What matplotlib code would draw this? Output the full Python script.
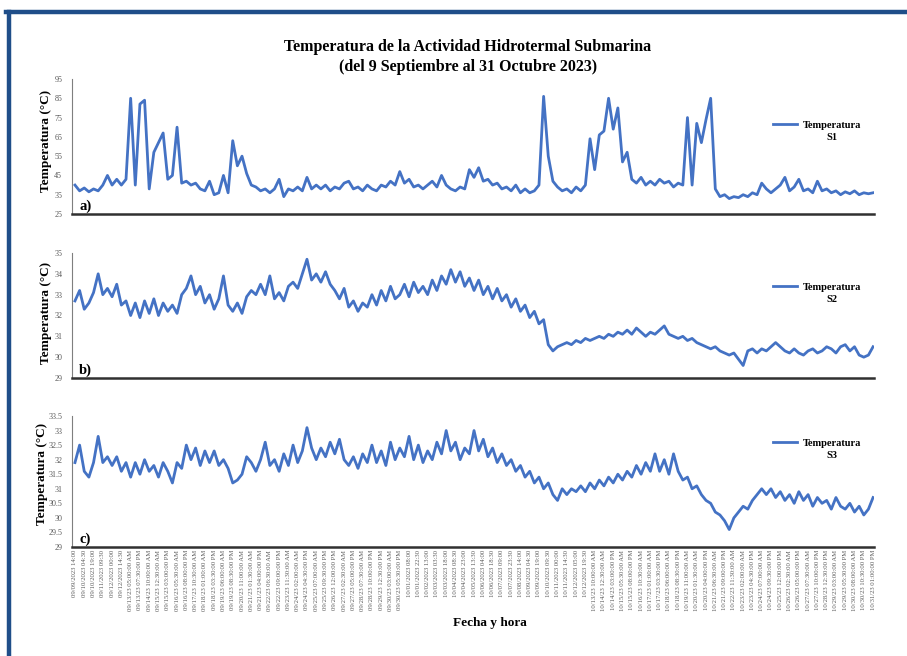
import numpy as np
import matplotlib
matplotlib.use("Agg")
import matplotlib.pyplot as plt
from matplotlib.lines import Line2D

plt.rcParams['font.family'] = ['Liberation Serif', 'DejaVu Serif']

# Datos (cada valor ~ 7.25 h)
temp_s1 = [40, 37, 38.5, 36.5, 38, 37, 40, 45, 40, 43, 40, 43, 85, 40, 82, 84, 38, 57, 62, 67,
           43, 45, 70, 41, 42, 40, 41, 38, 37, 42, 35, 36, 45, 36, 63, 50, 55, 46, 40, 39,
           37, 38, 36, 38, 43, 34, 38, 37, 39, 37, 44, 38, 40, 38, 40, 37, 39, 38, 41, 42,
           38, 39, 37, 40, 38, 37, 40, 39, 42, 40, 47, 41, 43, 39, 40, 38, 40, 42, 39, 45,
           40, 38, 37, 39, 38, 48, 44, 49, 42, 43, 40, 41, 38, 39, 37, 40, 36, 38, 36, 37,
           40, 86, 55, 42, 39, 37, 38, 36, 39, 37, 40, 64, 48, 66, 68, 85, 69, 80, 52, 57,
           43, 41, 44, 40, 42, 40, 43, 41, 42, 39, 41, 40, 75, 40, 72, 62, 74, 85, 38, 34,
           35, 33, 34, 33.5, 35, 34, 36, 35, 41, 38, 36, 38, 40, 44, 37, 39, 43, 37, 38, 36,
           42, 37, 38, 36, 37, 35, 36.5, 35.5, 37, 35, 36, 35.5, 36]

temp_s2 = [32.7, 33.2, 32.3, 32.6, 33.1, 34.0, 33.0, 33.3, 32.9, 33.5, 32.5, 32.7, 32.0, 32.6,
           31.9, 32.7, 32.1, 32.8, 32.0, 32.6, 32.2, 32.5, 32.1, 33.0, 33.3, 33.9, 33.0, 33.4,
           32.6, 33.0, 32.3, 32.8, 33.9, 32.5, 32.2, 32.6, 32.1, 32.9, 33.2, 33.0, 33.5, 33.0,
           33.9, 32.8, 33.1, 32.7, 33.4, 33.6, 33.3, 34.0, 34.7, 33.7, 34.0, 33.6, 34.1, 33.5,
           33.2, 32.8, 33.3, 32.4, 32.7, 32.2, 32.6, 32.4, 33.0, 32.5, 33.2, 32.7, 33.4, 32.8,
           33.0, 33.5, 32.9, 33.6, 33.1, 33.4, 33.0, 33.7, 33.2, 33.9, 33.5, 34.2, 33.6, 34.1,
           33.4, 33.8, 33.2, 33.7, 33.0, 33.4, 32.8, 33.3, 32.7, 33.0, 32.4, 32.8, 32.2, 32.5,
           31.9, 32.2, 31.6, 31.8, 30.6, 30.3, 30.5, 30.6, 30.7, 30.6, 30.8, 30.7, 30.9, 30.8,
           30.9, 31.0, 30.9, 31.1, 31.0, 31.2, 31.1, 31.3, 31.1, 31.4, 31.2, 31.0, 31.2, 31.1,
           31.3, 31.5, 31.1, 31.0, 30.9, 31.0, 30.8, 30.9, 30.7, 30.6, 30.5, 30.4, 30.5, 30.3,
           30.2, 30.1, 30.2, 29.9, 29.6, 30.3, 30.4, 30.2, 30.4, 30.3, 30.5, 30.7, 30.5, 30.3,
           30.2, 30.4, 30.2, 30.1, 30.3, 30.4, 30.2, 30.3, 30.5, 30.4, 30.2, 30.5, 30.6, 30.3,
           30.5, 30.1, 30.0, 30.1, 30.5]

temp_s3 = [31.9, 32.5, 31.6, 31.4, 31.9, 32.8, 31.9, 32.1, 31.8, 32.1, 31.6, 31.9, 31.4, 31.9,
           31.5, 32.0, 31.6, 31.8, 31.4, 31.9, 31.6, 31.2, 31.9, 31.7, 32.5, 32.0, 32.4, 31.8,
           32.3, 31.9, 32.3, 31.8, 32.0, 31.7, 31.2, 31.3, 31.5, 32.1, 31.9, 31.6, 32.0, 32.6,
           31.8, 32.0, 31.6, 32.2, 31.8, 32.5, 31.9, 32.3, 33.1, 32.4, 32.0, 32.4, 32.1, 32.6,
           32.2, 32.7, 32.0, 31.8, 32.1, 31.7, 32.2, 31.9, 32.5, 31.9, 32.3, 31.8, 32.6, 32.0,
           32.4, 32.1, 32.8, 32.0, 32.5, 31.9, 32.3, 32.0, 32.6, 32.2, 33.0, 32.3, 32.6, 32.0,
           32.4, 32.2, 33.0, 32.3, 32.7, 32.1, 32.4, 31.9, 32.2, 31.8, 32.0, 31.6, 31.8, 31.4,
           31.6, 31.2, 31.4, 31.0, 31.2, 30.8, 30.6, 31.0, 30.8, 31.0, 30.9, 31.1, 30.9, 31.2,
           31.0, 31.3, 31.1, 31.4, 31.2, 31.5, 31.3, 31.6, 31.4, 31.8, 31.5, 31.9, 31.6, 32.2,
           31.6, 32.0, 31.5, 32.2, 31.6, 31.3, 31.4, 31.0, 31.1, 30.8, 30.6, 30.5, 30.2, 30.1,
           29.9, 29.6, 30.0, 30.2, 30.4, 30.3, 30.6, 30.8, 31.0, 30.8, 31.0, 30.7, 30.9, 30.6,
           30.8, 30.5, 30.9, 30.6, 30.8, 30.4, 30.7, 30.5, 30.6, 30.3, 30.7, 30.4, 30.3, 30.5,
           30.2, 30.4, 30.1, 30.3, 30.7]

fechas = [
    "09/09/2023 14:00", "09/10/2023 04:30", "09/10/2023 19:00", "09/11/2023 09:30",
    "09/12/2023 00:00", "09/12/2023 14:30", "09/13/23 05:00:00 AM", "09/13/23 07:30:00 PM",
    "09/14/23 10:00:00 AM", "09/15/23 12:30:00 AM", "09/15/23 03:00:00 PM", "09/16/23 05:30:00 AM",
    "09/16/23 08:00:00 PM", "09/17/23 10:30:00 AM", "09/18/23 01:00:00 AM", "09/18/23 03:30:00 PM",
    "09/19/23 06:00:00 AM", "09/19/23 08:30:00 PM", "09/20/23 11:00:00 AM", "09/21/23 01:30:00 AM",
    "09/21/23 04:00:00 PM", "09/22/23 06:30:00 AM", "09/22/23 09:00:00 PM", "09/23/23 11:30:00 AM",
    "09/24/23 02:00:00 AM", "09/24/23 04:30:00 PM", "09/25/23 07:00:00 AM", "09/25/23 09:30:00 PM",
    "09/26/23 12:00:00 PM", "09/27/23 02:30:00 AM", "09/27/23 05:00:00 PM", "09/28/23 07:30:00 AM",
    "09/28/23 10:00:00 PM", "09/29/23 12:30:00 PM", "09/30/23 03:00:00 AM", "09/30/23 05:30:00 PM",
    "10/01/2023 08:00", "10/01/2023 22:30", "10/02/2023 13:00", "10/03/2023 03:30",
    "10/03/2023 18:00", "10/04/2023 08:30", "10/04/2023 23:00", "10/05/2023 13:30",
    "10/06/2023 04:00", "10/06/2023 18:30", "10/07/2023 09:00", "10/07/2023 23:30",
    "10/08/2023 14:00", "10/09/2023 04:30", "10/09/2023 19:00", "10/10/2023 09:30",
    "10/11/2023 00:00", "10/11/2023 14:30", "10/12/2023 05:00", "10/12/2023 19:30",
    "10/13/23 10:00:00 AM", "10/14/23 12:30:00 AM", "10/14/23 03:00:00 PM", "10/15/23 05:30:00 AM",
    "10/15/23 08:00:00 PM", "10/16/23 10:30:00 AM", "10/17/23 01:00:00 AM", "10/17/23 03:30:00 PM",
    "10/18/23 06:00:00 AM", "10/18/23 08:30:00 PM", "10/19/23 11:00:00 AM", "10/20/23 01:30:00 AM",
    "10/20/23 04:00:00 PM", "10/21/23 06:30:00 AM", "10/21/23 09:00:00 PM", "10/22/23 11:30:00 AM",
    "10/23/23 02:00:00 AM", "10/23/23 04:30:00 PM", "10/24/23 07:00:00 AM", "10/24/23 09:30:00 PM",
    "10/25/23 12:00:00 PM", "10/26/23 02:30:00 AM", "10/26/23 05:00:00 PM", "10/27/23 07:30:00 AM",
    "10/27/23 10:00:00 PM", "10/28/23 12:30:00 PM", "10/29/23 03:00:00 AM", "10/29/23 05:30:00 PM",
    "10/30/23 08:00:00 AM", "10/30/23 10:30:00 PM", "10/31/23 01:00:00 PM",
]

W, H = 907, 656


def fx(x):
    return x / W


def fy(y):
    return 1 - y / H


azul = '#4472C4'
gris = '#595959'

fig = plt.figure(figsize=(W / 100, H / 100), dpi=100)
fig.patch.set_facecolor('white')

# marco azul (solo arriba e izquierda visibles)
fig.add_artist(Line2D([fx(6), 1.0], [fy(12), fy(12)], color='#1F4E89', lw=3.2))
fig.add_artist(Line2D([fx(8.5), fx(8.5)], [fy(12), 0.0], color='#1F4E89', lw=3.2))

paneles = [
    # serie, top px, bottom px, ylim, ticks, letra, sensor, (x, y) ylabel, y leyenda
    (temp_s1, 79, 214, (25, 95), np.arange(25, 96, 10), 'a)', 'S1', (46, 141), 125),
    (temp_s2, 253, 378, (29, 35), np.arange(29, 35.1, 1), 'b)', 'S2', (46, 313), 287),
    (temp_s3, 416, 547, (29, 33.5), np.arange(29, 33.6, 0.5), 'c)', 'S3', (42, 474), 443),
]

nt = len(fechas) - 1
axes = []
for serie, top, bot, ylim, yt, letra, sname, ylpos, legy in paneles:
    ax = fig.add_axes([fx(72), fy(bot), fx(874) - fx(72), (bot - top) / H])
    xs = np.linspace(0, nt, len(serie))
    ln, = ax.plot(xs, serie, color=azul, lw=2.0, label='Temperatura')
    ax.set_xlim(-0.32, nt + 0.1)
    ax.set_ylim(*ylim)
    ax.set_yticks(yt)
    ax.set_yticklabels(['%g' % v for v in yt], fontsize=5.8, color=gris)
    ax.tick_params(axis='y', length=0, pad=7)
    ax.tick_params(axis='x', length=0)
    for s in ['top', 'right']:
        ax.spines[s].set_visible(False)
    ax.spines['left'].set_color('#7f7f7f')
    ax.spines['left'].set_linewidth(0.8)
    ax.spines['bottom'].set_color('#303030')
    ax.spines['bottom'].set_linewidth(1.8)
    ax.set_xticks(np.arange(len(fechas)))
    ax.set_xticklabels([])
    fig.text(fx(79), fy(bot - 8), letra, fontsize=10.5, fontweight='bold', ha='left', va='center')
    fig.text(fx(ylpos[0]), fy(ylpos[1]), 'Temperatura (°C)', rotation=90, fontsize=9.5,
             fontweight='bold', ha='center', va='center')
    leg = ax.legend(handles=[ln], loc='center left', bbox_to_anchor=(fx(773), fy(legy)),
                    bbox_transform=fig.transFigure, frameon=False, fontsize=7.5,
                    handlelength=2.3, handletextpad=0.6, borderpad=0, borderaxespad=0)
    for t in leg.get_texts():
        t.set_fontweight('bold')
    fig.text(fx(832), fy(legy + 13), sname, fontsize=7.5, fontweight='bold',
             ha='center', va='center')
    axes.append(ax)

axes[-1].set_xticklabels(fechas, rotation=90, fontsize=4.8, color=gris, va='top')
axes[-1].tick_params(axis='x', pad=2)

fig.text(fx(468), fy(47), 'Temperatura de la Actividad Hidrotermal Submarina',
         fontsize=11.5, fontweight='bold', ha='center', va='center')
fig.text(fx(468), fy(67), '(del 9 Septiembre al 31 Octubre 2023)',
         fontsize=11.5, fontweight='bold', ha='center', va='center')
fig.text(fx(490), fy(623), 'Fecha y hora', fontsize=9.5, fontweight='bold',
         ha='center', va='center')

fig.savefig('out.png', dpi=100)
